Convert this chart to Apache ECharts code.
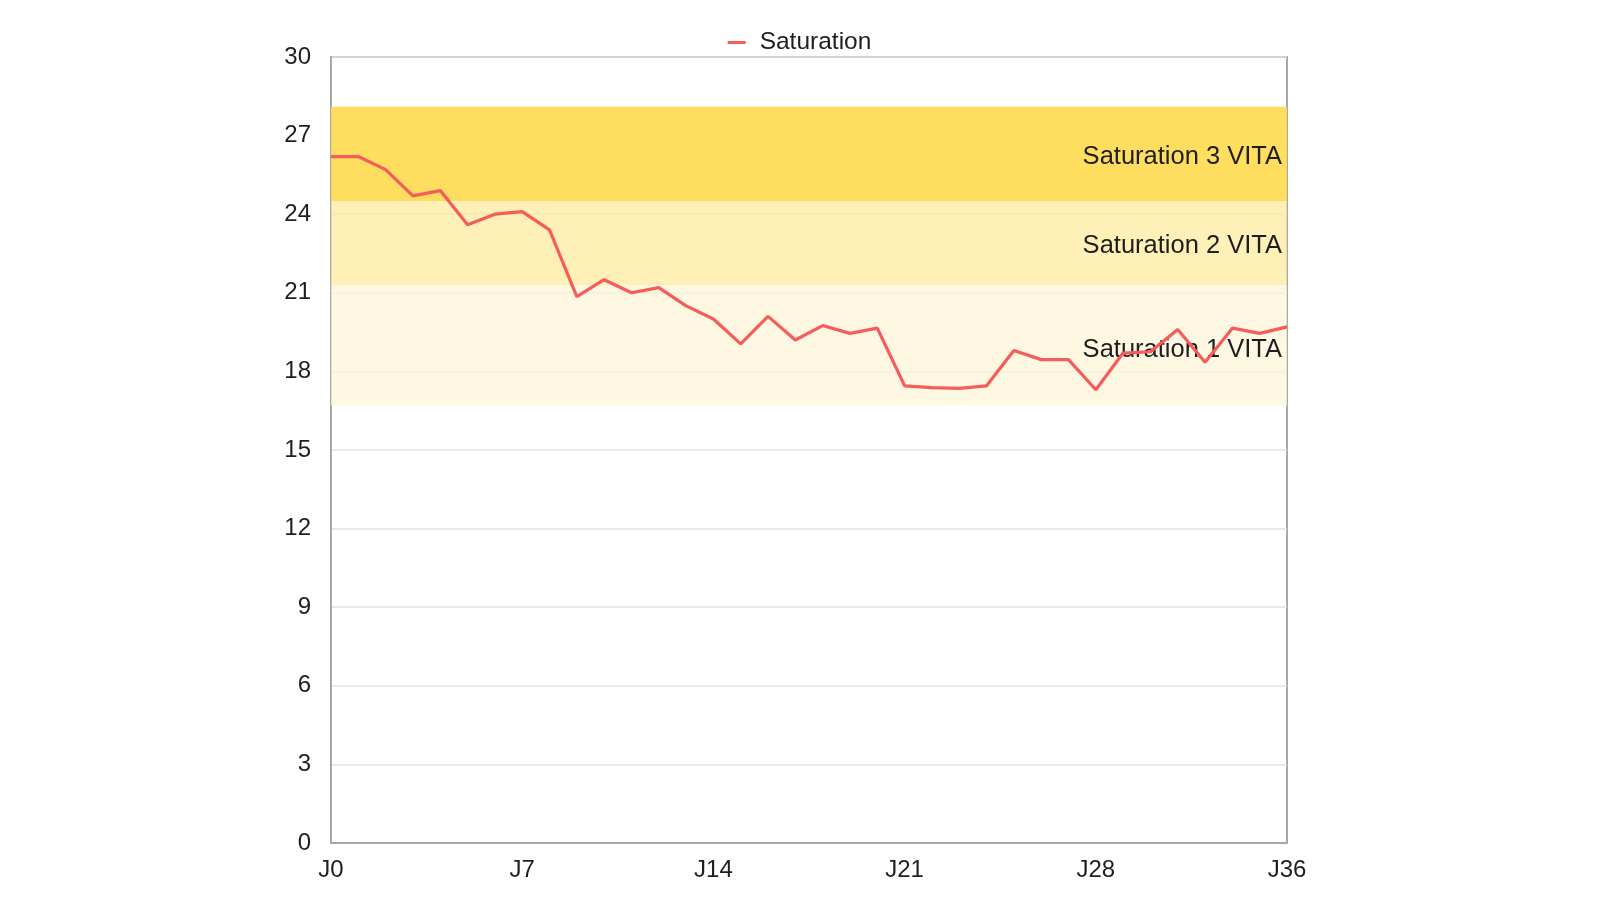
<!DOCTYPE html>
<html>
<head>
<meta charset="utf-8">
<script src="https://cdn.jsdelivr.net/npm/echarts@6/dist/echarts.min.js"></script>
<style>
html,body{margin:0;padding:0;background:#fff;}
#chart{width:1599px;height:900px;}
</style>
</head>
<body>
<div id="chart"></div>
<script>
const categories = ["J0","J1","J2","J3","J4","J5","J6","J7","J8","J9","J10","J11","J12","J13","J14","J15","J16","J17","J18","J19","J20","J21","J22","J23","J24","J25","J26","J27","J28","J29","J30","J31","J32","J33","J34","J36"];
const saturation = [26.2,26.2,25.7,24.7,24.9,23.6,24.0,24.1,23.4,20.85,21.5,21.0,21.2,20.5,20.0,19.05,20.1,19.2,19.75,19.45,19.65,17.45,17.38,17.35,17.45,18.8,18.45,18.45,17.3,18.7,18.75,19.6,18.35,19.65,19.45,19.7];
const bandNames = ["Saturation 1 VITA","Saturation 2 VITA","Saturation 3 VITA"];
const bandFrom = [16.7,21.3,24.5];
const bandTo = [21.3,24.5,28.1];
const yTicks = {min:0,max:30,interval:3};

const bandColors = ["rgba(253,245,218,0.75)","rgba(253,235,158,0.75)","rgba(255,217,78,0.9)"];
const bandLabelShift = [5,3,3];
const FONT = 'Liberation Sans, Arial, Helvetica, sans-serif';

const chart = echarts.init(document.getElementById('chart'));
chart.setOption({
  animation:false,
  legend:{
    top:25,left:'center',
    itemWidth:18,itemHeight:3,
    icon:'rect',
    textStyle:{fontFamily:FONT,fontSize:24.5,color:'#1e1e1e',padding:[0,0,0,9]},
    data:['Saturation']
  },
  grid:{left:331,right:312,top:57,bottom:57,show:true,borderColor:'#a8a8a8',borderWidth:2,backgroundColor:'transparent'},
  xAxis:{
    type:'category',
    data:categories,
    boundaryGap:false,
    axisLine:{lineStyle:{color:'#a8a8a8',width:2}},
    axisTick:{show:false},
    axisLabel:{
      interval:function(i){return i%7===0 || i===categories.length-1;},
      fontFamily:FONT,fontSize:24,color:'#1e1e1e',margin:15
    },
    splitLine:{show:false}
  },
  yAxis:{
    type:'value',
    min:yTicks.min,max:yTicks.max,interval:yTicks.interval,
    axisLine:{show:true,lineStyle:{color:'#a8a8a8',width:2}},
    axisTick:{show:false},
    axisLabel:{fontFamily:FONT,fontSize:24,color:'#1e1e1e',margin:20},
    splitLine:{lineStyle:{color:'#e2e2e2',width:1.5}}
  },
  series:[{
    name:'Saturation',
    type:'line',
    data:saturation,
    showSymbol:false,
    symbol:'none',
    lineStyle:{color:'#f65c5c',width:3.2},
    itemStyle:{color:'#f65c5c'},
    z:3,
    markArea:{
      silent:true,
      z:1,
      label:{position:'insideRight',distance:5,fontFamily:FONT,fontSize:25.5,color:'#1e1e1e'},
      data:bandNames.map((n,i)=>[
        {name:n,yAxis:bandFrom[i],itemStyle:{color:bandColors[i]},label:{offset:[0,bandLabelShift[i]]}},
        {yAxis:bandTo[i]}
      ])
    }
  }]
});
</script>
</body>
</html>
